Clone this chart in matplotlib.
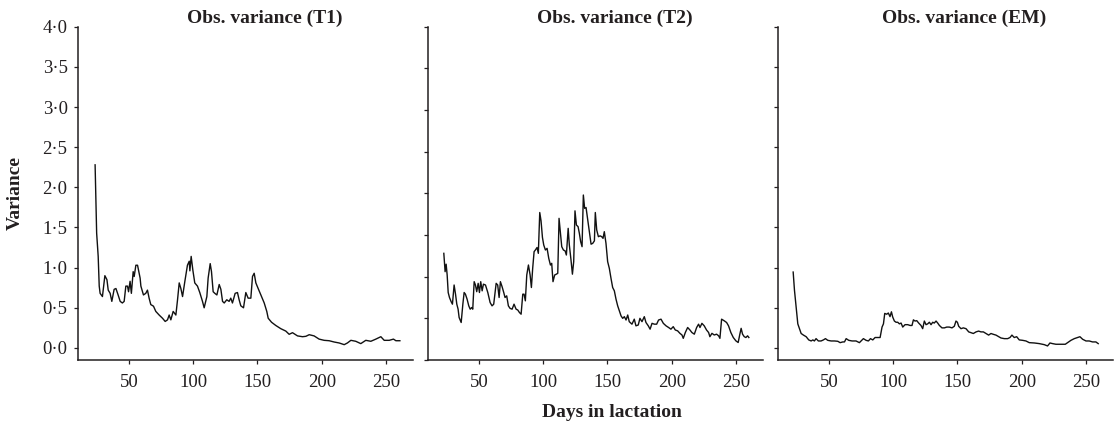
import matplotlib
matplotlib.use("Agg")
import matplotlib.pyplot as plt
from matplotlib.ticker import FuncFormatter

plt.rcParams['font.family'] = ['Liberation Serif', 'DejaVu Serif']

# ---------------- data ----------------
titles = ["Obs. variance (T1)", "Obs. variance (T2)", "Obs. variance (EM)"]
x_ticks = [50, 100, 150, 200, 250]
y_ticks = [0.0, 0.5, 1.0, 1.5, 2.0, 2.5, 3.0, 3.5, 4.0]

t1_days = [23.8, 25, 26.2, 27, 27.7, 29.5, 31.4, 33, 34, 35.5, 36.8, 38.6, 40, 41.7, 43.3, 45,
           46.4, 47.7, 49, 49.8, 51, 52, 53.4, 54.2, 55.5, 56.8, 58.8, 59.4, 61.4, 63.2, 64.5,
           65.8, 67.1, 69.2, 71, 73.6, 76.2, 78.3, 80.1, 81.4, 82.7, 84.5, 86.6, 87.9, 89.2,
           90.5, 91.8, 93.6, 95.6, 97, 97.5, 98.5, 99.8, 101.3, 103.4, 105.2, 107.3, 108.6,
           110.7, 111.7, 113.3, 114.3, 115.6, 116.9, 118.5, 120.3, 121.6, 122.9, 124.2, 126.2,
           128, 129.3, 130.6, 132.7, 134.5, 135.8, 137.1, 139.2, 141, 142.8, 144.9, 146.2,
           147.5, 148.8, 150.6, 152.7, 155.3, 157.3, 158.4, 161, 164.3, 168.2, 172.1, 174.7,
           177.3, 181.2, 185.1, 187.7, 190.3, 194.1, 198, 201.9, 205.8, 209.7, 213.6, 217.5,
           220, 222.7, 226.5, 230.4, 234.3, 238.2, 242.1, 246, 248.6, 252.5, 255.8, 257.7, 260.8]
t1_var = [2.28, 1.43, 1.14, 0.77, 0.68, 0.64, 0.90, 0.85, 0.72, 0.68, 0.58, 0.73, 0.74, 0.66,
          0.58, 0.56, 0.58, 0.77, 0.77, 0.70, 0.83, 0.68, 0.95, 0.89, 1.03, 1.03, 0.87, 0.77,
          0.66, 0.68, 0.72, 0.62, 0.54, 0.52, 0.455, 0.41, 0.37, 0.33, 0.35, 0.41, 0.35, 0.455,
          0.41, 0.60, 0.81, 0.74, 0.64, 0.83, 1.03, 1.08, 0.96, 1.14, 0.97, 0.81, 0.77, 0.69,
          0.58, 0.50, 0.64, 0.87, 1.05, 0.95, 0.70, 0.68, 0.66, 0.79, 0.73, 0.58, 0.56, 0.60,
          0.58, 0.62, 0.56, 0.68, 0.69, 0.60, 0.525, 0.50, 0.69, 0.62, 0.62, 0.89, 0.93, 0.81,
          0.74, 0.66, 0.56, 0.455, 0.37, 0.32, 0.28, 0.24, 0.21, 0.17, 0.19, 0.15, 0.14, 0.145,
          0.165, 0.15, 0.11, 0.095, 0.09, 0.074, 0.062, 0.041, 0.062, 0.095, 0.083, 0.054,
          0.095, 0.083, 0.11, 0.14, 0.095, 0.095, 0.11, 0.09, 0.09]

t2_days = [22.8, 23.8, 24.6, 25.4, 26.2, 27.2, 28.5, 29.5, 30.8, 31.9, 32.9, 33.9, 34.7, 36.3,
           37.6, 38.6, 39.6, 40.9, 42.2, 43.3, 44.5, 45.3, 46.4, 47.4, 48.4, 49.5, 50.5, 51.5,
           52.6, 53.6, 55.2, 57, 58.8, 60.3, 61.6, 63.5, 64.7, 65.8, 66.8, 68.1, 69.4, 70.4,
           71.7, 73, 74.3, 75.9, 77.4, 79, 80.3, 81.6, 82.9, 84.2, 85.2, 86.2, 87.3, 88.6, 89.9,
           90.9, 91.9, 93, 94, 95.3, 96.3, 97.4, 98.4, 99.5, 100.5, 101.8, 103.1, 104.4, 105.7,
           106.7, 107.7, 109, 110.3, 111.4, 112.4, 113.4, 114.5, 115.8, 117.1, 118.1, 119.5,
           120.4, 121.7, 122.8, 123.8, 124.8, 125.9, 127.2, 128.2, 129.2, 130.3, 131.3, 132.3,
           133.4, 134.7, 136, 137.3, 138.6, 139.9, 140.6, 141.7, 143, 144.3, 145.6, 146.6,
           147.6, 148.9, 150.2, 151.5, 152.8, 154.1, 155.4, 156.7, 158, 159.3, 160.6, 161.9,
           163.2, 164.5, 165.8, 167, 169.1, 170.9, 172.2, 174, 175.3, 176.9, 178.7, 180, 181.8,
           183.2, 184.7, 186.5, 188.3, 189.8, 191.7, 193.5, 195.6, 197.6, 199.4, 201.2, 202.8,
           204.6, 206.4, 208, 209, 210.6, 212.4, 214.2, 215.7, 217.6, 219.4, 220.9, 222, 223.5,
           225.3, 227.1, 228.7, 229.7, 231.3, 233.1, 234.9, 236.5, 237.5, 238.8, 240.9, 242.7,
           244.2, 246, 247.9, 249.9, 251.7, 253, 254, 255.1, 256.4, 257.7, 259, 260]
t2_var = [1.28, 1.06, 1.15, 1.02, 0.81, 0.75, 0.70, 0.67, 0.90, 0.79, 0.67, 0.61, 0.51, 0.45,
          0.67, 0.81, 0.79, 0.73, 0.65, 0.61, 0.63, 0.61, 0.94, 0.90, 0.82, 0.92, 0.81, 0.94,
          0.83, 0.91, 0.90, 0.81, 0.69, 0.65, 0.67, 0.92, 0.90, 0.75, 0.94, 0.88, 0.81, 0.75,
          0.77, 0.65, 0.62, 0.61, 0.67, 0.61, 0.60, 0.57, 0.55, 0.79, 0.79, 0.71, 1.02, 1.14,
          1.02, 0.87, 1.10, 1.30, 1.32, 1.35, 1.28, 1.77, 1.67, 1.47, 1.38, 1.32, 1.34, 1.22,
          1.14, 1.16, 0.94, 1.02, 1.03, 1.04, 1.70, 1.54, 1.36, 1.32, 1.31, 1.26, 1.58, 1.38,
          1.20, 1.03, 1.18, 1.79, 1.62, 1.60, 1.52, 1.42, 1.36, 1.98, 1.82, 1.83, 1.68, 1.52,
          1.39, 1.40, 1.43, 1.77, 1.56, 1.48, 1.49, 1.48, 1.46, 1.54, 1.40, 1.18, 1.10, 0.98,
          0.87, 0.83, 0.73, 0.65, 0.59, 0.53, 0.50, 0.52, 0.48, 0.54, 0.46, 0.43, 0.49, 0.41,
          0.42, 0.50, 0.46, 0.52, 0.45, 0.41, 0.37, 0.44, 0.43, 0.43, 0.48, 0.49, 0.44, 0.41,
          0.39, 0.37, 0.40, 0.36, 0.35, 0.32, 0.30, 0.26, 0.33, 0.39, 0.36, 0.33, 0.31, 0.39,
          0.43, 0.39, 0.44, 0.41, 0.36, 0.33, 0.28, 0.32, 0.30, 0.31, 0.29, 0.26, 0.49, 0.47,
          0.45, 0.41, 0.33, 0.27, 0.23, 0.21, 0.31, 0.38, 0.31, 0.28, 0.27, 0.29, 0.27]

em_days = [22.3, 23.3, 24.6, 25.9, 27.2, 28.5, 30.3, 32.4, 34.4, 36.3, 37.6, 38.8, 40.1, 41.9,
           44, 45.8, 47.4, 49.2, 51.8, 54.4, 57, 58.8, 60.9, 62.2, 63.5, 65.5, 68.1, 71.2, 73.8,
           75.1, 76.9, 79, 80.8, 82.4, 84.2, 86, 88.1, 89.9, 91.4, 92.5, 93.5, 95, 96.3, 97.6,
           98.7, 99.7, 101, 102.3, 103.6, 104.9, 106.2, 107.5, 109.3, 111.4, 113.2, 114.7,
           115.8, 117.1, 118.4, 119.9, 121.7, 123, 124.3, 125.6, 126.9, 128.2, 129.5, 130.8,
           132, 133.4, 134.7, 136, 138, 139.9, 141.7, 143.7, 145.8, 147.6, 148.9, 150, 151,
           152.8, 154.6, 156.7, 158.8, 160.6, 162.4, 164.5, 166.5, 168.3, 170.2, 172.2, 174.3,
           176.1, 177.9, 180, 182.1, 183.9, 186.5, 189.1, 190.9, 192.4, 194.2, 196.1, 198.1,
           200.7, 203.3, 205.9, 209.8, 213.7, 217.6, 220.1, 222, 224, 226.6, 230.5, 233.9,
           236.5, 238.3, 240.9, 243.5, 245.3, 247.4, 250, 252.5, 255.1, 257.7, 259.5]
em_var = [0.945, 0.72, 0.51, 0.30, 0.24, 0.18, 0.16, 0.14, 0.10, 0.087, 0.10, 0.087, 0.116,
          0.087, 0.087, 0.10, 0.116, 0.095, 0.087, 0.087, 0.083, 0.066, 0.075, 0.075, 0.116,
          0.095, 0.087, 0.087, 0.066, 0.087, 0.116, 0.095, 0.087, 0.116, 0.10, 0.13, 0.13,
          0.13, 0.26, 0.30, 0.43, 0.42, 0.435, 0.39, 0.45, 0.385, 0.335, 0.32, 0.32, 0.30,
          0.31, 0.26, 0.29, 0.29, 0.28, 0.28, 0.35, 0.335, 0.34, 0.31, 0.28, 0.24, 0.335, 0.29,
          0.30, 0.32, 0.29, 0.32, 0.31, 0.335, 0.31, 0.28, 0.25, 0.25, 0.26, 0.26, 0.25, 0.27,
          0.335, 0.32, 0.27, 0.24, 0.25, 0.24, 0.20, 0.19, 0.18, 0.20, 0.21, 0.20, 0.20, 0.18,
          0.16, 0.18, 0.17, 0.16, 0.14, 0.124, 0.116, 0.116, 0.13, 0.16, 0.13, 0.14, 0.10,
          0.095, 0.087, 0.066, 0.062, 0.054, 0.041, 0.025, 0.062, 0.054, 0.046, 0.046, 0.046,
          0.075, 0.095, 0.116, 0.13, 0.14, 0.108, 0.087, 0.087, 0.075, 0.075, 0.054]

series = [(t1_days, t1_var), (t2_days, t2_var), (em_days, em_var)]
ylims = [(-0.15, 4.0), (0.032, 4.0), (-0.15, 4.0)]

# ---------------- figure ----------------
W, H = 1118, 421
fig = plt.figure(figsize=(W / 100, H / 100), dpi=100)
text_col = '#231f20'
lefts = [78, 428, 778]
ax_w, ax_top, ax_bot = 335, 26.7, 360

fmt = FuncFormatter(lambda v, p: f"{v:.1f}".replace('.', '\u00b7'))

for i, (left, title, (d, v), yl) in enumerate(zip(lefts, titles, series, ylims)):
    ax = fig.add_axes([left / W, 1 - ax_bot / H, ax_w / W, (ax_bot - ax_top) / H])
    ax.plot(d, v, color='#111111', lw=1.0)
    ax.set_xlim(10.5, 271)
    ax.set_ylim(*yl)
    ax.set_xticks(x_ticks)
    ax.set_yticks(y_ticks)
    ax.yaxis.set_major_formatter(fmt)
    for s in ['top', 'right']:
        ax.spines[s].set_visible(False)
    for s in ['left', 'bottom']:
        ax.spines[s].set_color(text_col)
        ax.spines[s].set_linewidth(1.1)
    ax.tick_params(axis='x', direction='out', length=3, width=0.9, color=text_col,
                   labelsize=13.5, labelcolor=text_col, pad=7)
    ax.tick_params(axis='y', direction='out', length=3, width=0.9, color=text_col,
                   labelsize=13.5, labelcolor=text_col, pad=4.5, labelleft=(i == 0))
    ax.set_title(title, x=0.557, pad=2.5, fontsize=14, fontweight='bold', color=text_col)

fig.text(15.7 / W, 1 - 193 / H, "Variance", rotation=90, ha='center', va='center',
         fontsize=14, fontweight='bold', color=text_col)
fig.text(612 / W, 1 - 417 / H, "Days in lactation", ha='center', va='baseline',
         fontsize=14, fontweight='bold', color=text_col)

fig.savefig("out.png", dpi=100)
